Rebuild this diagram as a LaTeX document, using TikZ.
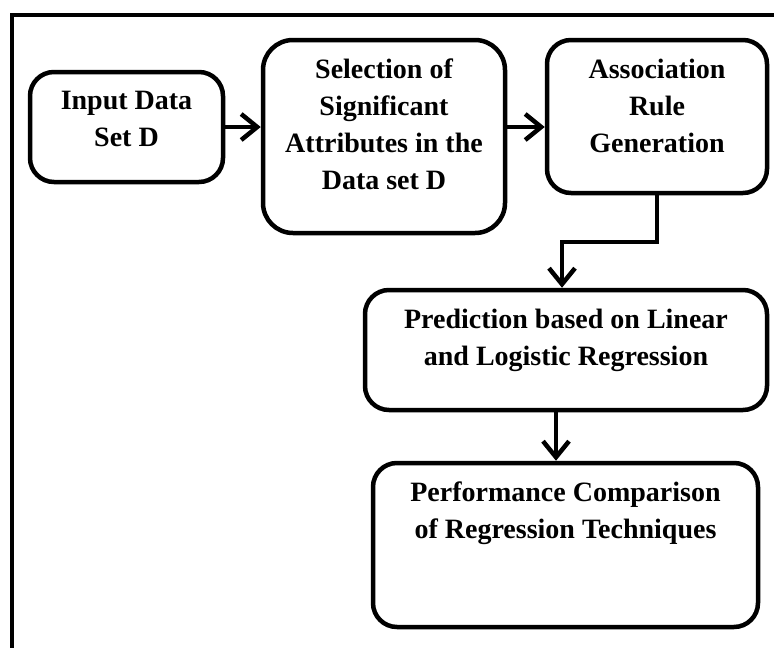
\documentclass[tikz,border=0pt]{standalone}
\usepackage{fontspec}
\setmainfont{Liberation Serif}
\usetikzlibrary{arrows.meta}

\begin{document}
\begin{tikzpicture}[
		x=1pt, y=-1pt,
		every node/.style={rectangle, draw, line width=4.5pt, rounded corners=24pt, inner sep=0pt},
		every label/.append style={draw=none, align=center, font=\fontsize{28}{37}\selectfont\bfseries},
		txt/.style={anchor=north, yshift=-19pt},
		arr/.style={line width=4.5pt, -{Straight Barb[length=16pt,width=26pt]}}
	]
  \useasboundingbox (0,0) rectangle (774,648);
  \draw[line width=4pt] (12,660) -- (12,15) -- (790,15);
  \node (input) [minimum width=193pt, minimum height=110pt,
    label={[txt]north:Input Data\\Set D}] at (126.5,127) {};
  \node (select) [minimum width=242pt, minimum height=193pt, rounded corners=30pt,
    label={[txt]north:Selection of\\Significant\\Attributes in the\\Data set D}] at (384,136.5) {};
  \node (assoc) [minimum width=220pt, minimum height=153pt,
    label={[txt]north:Association\\Rule\\Generation}] at (657,116.5) {};
  \node (predict) [minimum width=402pt, minimum height=120pt,
    label={[txt]north:Prediction based on Linear\\and Logistic Regression}] at (566,350) {};
  \node (compare) [minimum width=385pt, minimum height=164pt,
    label={[txt]north:Performance Comparison\\of Regression Techniques}] at (565.5,545) {};
  \coordinate (bend) at (657,242);
  \draw[arr] (input.east) -- (input.east -| select.west);
  \draw[arr] (select.east |- input.east) -- (assoc.west |- input.east);
  \draw[arr] (assoc.south) -- (bend) -| ([xshift=-4pt]predict.north);
  \draw[arr] ([xshift=-10pt]predict.south) -- ([xshift=-10pt]predict.south |- compare.north);
\end{tikzpicture}
\end{document}
